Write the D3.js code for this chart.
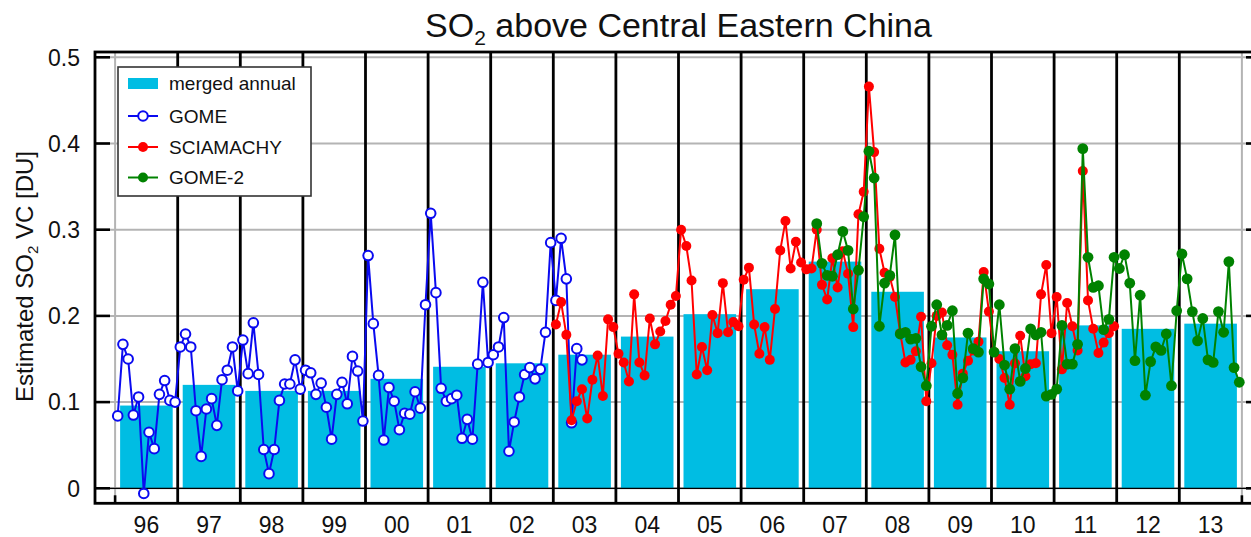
<!DOCTYPE html>
<html>
<head>
<meta charset="utf-8">
<script src="https://cdn.jsdelivr.net/npm/d3@7"></script>
<style>
  body { margin: 0; background: #fff; }
  svg { display: block; }
  text { font-family: "Liberation Sans", Arial, Helvetica, sans-serif; fill: #111; }
</style>
</head>
<body>
<svg id="chart" width="1251" height="537"></svg>
<script>
// Years and their short tick labels
const years = d3.range(1996, 2014);
const yearLabels = ["96","97","98","99","00","01","02","03","04","05","06","07","08","09","10","11","12","13"];

// Merged annual mean SO2 vertical column [DU]
const mergedAnnual = [0.096, 0.120, 0.113, 0.113, 0.127, 0.141, 0.145, 0.155, 0.176, 0.202,
                      0.231, 0.263, 0.228, 0.175, 0.159, 0.189, 0.185, 0.191];

// Monthly means, GOME, from January 1996
const gomeStart = 1996;
const gome = [
  0.084, 0.167, 0.150, 0.085, 0.106, -0.006, 0.065, 0.046, 0.109, 0.125, 0.102, 0.100,
  0.164, 0.179, 0.164, 0.090, 0.037, 0.092, 0.104, 0.073, 0.126, 0.137, 0.164, 0.113,
  0.172, 0.133, 0.192, 0.132, 0.045, 0.017, 0.045, 0.102, 0.121, 0.121, 0.149, 0.115,
  0.137, 0.134, 0.109, 0.122, 0.094, 0.057, 0.109, 0.123, 0.098, 0.153, 0.136, 0.078,
  0.270, 0.191, 0.131, 0.056, 0.117, 0.101, 0.068, 0.087, 0.086, 0.112, 0.093, 0.213,
  0.319, 0.227, 0.116, 0.101, 0.104, 0.108, 0.058, 0.080, 0.057, 0.144, 0.239, 0.146,
  0.155, 0.164, 0.198, 0.043, 0.077, 0.106, 0.132, 0.140, 0.127, 0.138, 0.181, 0.285,
  0.218, 0.290, 0.243, 0.076, 0.162, 0.149
];

// Monthly means, SCIAMACHY, from January 2003
const sciaStart = 2003;
const sciamachy = [
  0.190, 0.216, 0.178, 0.079, 0.101, 0.115, 0.081, 0.126, 0.154, 0.107, 0.196, 0.187,
  0.156, 0.146, 0.124, 0.225, 0.146, 0.131, 0.197, 0.167, 0.182, 0.194, 0.213, 0.223,
  0.300, 0.281, 0.241, 0.132, 0.164, 0.137, 0.201, 0.180, 0.238, 0.181, 0.193, 0.188,
  0.242, 0.256, 0.190, 0.156, 0.187, 0.149, 0.208, 0.276, 0.310, 0.255, 0.286, 0.262,
  0.254, 0.255, 0.300, 0.236, 0.219, 0.267, 0.233, 0.275, 0.249, 0.187, 0.318, 0.344,
  0.466, 0.390, 0.278, 0.250, 0.245, 0.222, 0.180, 0.146, 0.149, 0.159, 0.199, 0.101,
  0.145, 0.200, 0.204, 0.166, 0.155, 0.097, 0.133, 0.148, 0.160, 0.170, 0.251, 0.205,
  0.158, 0.150, 0.128, 0.097, 0.145, 0.177, 0.130, 0.144, 0.145, 0.225, 0.259, 0.180,
  0.222, 0.138, 0.215, 0.188, 0.160, 0.368, 0.218, 0.185, 0.157, 0.169, 0.180, 0.188
];

// Monthly means, GOME-2, from March 2007
const gome2Start = 2007 + 2 / 12;
const gome2 = [
  0.307, 0.261, 0.247, 0.246, 0.271, 0.298, 0.276, 0.208, 0.253, 0.315,
  0.391, 0.360, 0.188, 0.238, 0.247, 0.294, 0.179, 0.181, 0.173, 0.174, 0.141, 0.119,
  0.188, 0.213, 0.178, 0.189, 0.206, 0.110, 0.128, 0.180, 0.162, 0.158, 0.243, 0.237,
  0.158, 0.213, 0.143, 0.115, 0.162, 0.124, 0.139, 0.185, 0.178, 0.181, 0.107, 0.109,
  0.115, 0.189, 0.144, 0.144, 0.167, 0.394, 0.268, 0.233, 0.235, 0.184, 0.196, 0.268,
  0.255, 0.271, 0.238, 0.148, 0.224, 0.108, 0.147, 0.164, 0.160, 0.179, 0.119, 0.206,
  0.272, 0.243, 0.205, 0.171, 0.197, 0.149, 0.146, 0.205, 0.181, 0.263, 0.140, 0.123
];

// Value axis ticks
const yTicks = [0, 0.1, 0.2, 0.3, 0.4, 0.5];
const yTickLabels = ["0", "0.1", "0.2", "0.3", "0.4", "0.5"];

const colors = { bar: "#00bde3", gome: "#0a0af0", scia: "#ff0000", gome2: "#008200", grid: "#b4b4b4" };
const markerR = { gome: 4.8, scia: 5.0, gome2: 5.4 };

const svg = d3.select("#chart");
const frame = { left: 95, top: 52, right: 1258, bottom: 503.3 };

const x = d3.scaleLinear().domain([1996, 2014]).range([115.1, 1241.9]);
const y = d3.scaleLinear().domain([0, 0.5]).range([488.3, 57.3]);

// horizontal grid
svg.append("g").selectAll("line").data(yTicks).join("line")
  .attr("x1", frame.left).attr("x2", frame.right)
  .attr("y1", d => y(d)).attr("y2", d => y(d))
  .attr("stroke", colors.grid).attr("stroke-width", 2);

// vertical grid at the ends of the time range
svg.append("g").selectAll("line").data([1996, 2014]).join("line")
  .attr("x1", d => x(d)).attr("x2", d => x(d))
  .attr("y1", frame.top).attr("y2", frame.bottom)
  .attr("stroke", colors.grid).attr("stroke-width", 2);

// annual bars
svg.append("g").selectAll("rect").data(years).join("rect")
  .attr("x", d => x(d + 0.08))
  .attr("width", d => x(d + 0.92) - x(d + 0.08))
  .attr("y", (d, i) => y(mergedAnnual[i]))
  .attr("height", (d, i) => y(0) - y(mergedAnnual[i]))
  .attr("fill", colors.bar);

// zero baseline
svg.append("line")
  .attr("x1", frame.left).attr("x2", frame.right)
  .attr("y1", y(0)).attr("y2", y(0))
  .attr("stroke", "#000").attr("stroke-width", 1.3);

// year separators
svg.append("g").selectAll("line").data(years.slice(1)).join("line")
  .attr("x1", d => x(d)).attr("x2", d => x(d))
  .attr("y1", frame.top).attr("y2", frame.bottom)
  .attr("stroke", "#000").attr("stroke-width", 2.8);

// monthly series
function monthly(start, values) {
  return values.map((v, i) => ({ t: start + (i + 0.5) / 12, v }));
}
const line = d3.line().x(d => x(d.t)).y(d => y(d.v));

function drawSeries(data, color, r, hollow) {
  const g = svg.append("g");
  g.append("path").datum(data)
    .attr("d", line).attr("fill", "none")
    .attr("stroke", color).attr("stroke-width", 2).attr("stroke-linejoin", "round");
  g.selectAll("circle").data(data).join("circle")
    .attr("cx", d => x(d.t)).attr("cy", d => y(d.v)).attr("r", r)
    .attr("fill", hollow ? "#fff" : color)
    .attr("stroke", color).attr("stroke-width", hollow ? 2 : 0);
}
drawSeries(monthly(gomeStart, gome), colors.gome, markerR.gome, true);
drawSeries(monthly(sciaStart, sciamachy), colors.scia, markerR.scia, false);
drawSeries(monthly(gome2Start, gome2), colors.gome2, markerR.gome2, false);

// frame
svg.append("rect")
  .attr("x", frame.left).attr("y", frame.top)
  .attr("width", frame.right - frame.left).attr("height", frame.bottom - frame.top)
  .attr("fill", "none").attr("stroke", "#000").attr("stroke-width", 2.8);

// y ticks (inside, both sides)
const yt = svg.append("g");
yt.selectAll("line.l").data(yTicks).join("line").attr("class", "l")
  .attr("x1", frame.left).attr("x2", frame.left + 15)
  .attr("y1", d => y(d)).attr("y2", d => y(d))
  .attr("stroke", "#000").attr("stroke-width", 2.6);
yt.selectAll("line.r").data(yTicks).join("line").attr("class", "r")
  .attr("x1", frame.right - 12).attr("x2", frame.right)
  .attr("y1", d => y(d)).attr("y2", d => y(d))
  .attr("stroke", "#000").attr("stroke-width", 2.6);
yt.selectAll("text").data(yTicks).join("text")
  .attr("x", 80).attr("y", d => y(d)).attr("dy", "0.36em")
  .attr("text-anchor", "end").attr("font-size", 23)
  .text((d, i) => yTickLabels[i]);

// x ticks at range ends
svg.append("g").selectAll("line").data([1996, 2014]).join("line")
  .attr("x1", d => x(d)).attr("x2", d => x(d))
  .attr("y1", frame.bottom).attr("y2", frame.bottom - 8)
  .attr("stroke", "#000").attr("stroke-width", 2.6);

// year labels centred in each year
svg.append("g").selectAll("text").data(years).join("text")
  .attr("x", d => x(d + 0.5)).attr("y", 532.5)
  .attr("text-anchor", "middle").attr("font-size", 23)
  .text((d, i) => yearLabels[i]);

// title
const title = svg.append("text")
  .attr("x", 678.5).attr("y", 37).attr("text-anchor", "middle").attr("font-size", 34);
title.append("tspan").text("SO");
title.append("tspan").attr("font-size", 21).attr("dy", 8).text("2");
title.append("tspan").attr("dy", -8).text(" above Central Eastern China");

// y axis label
const yl = svg.append("text")
  .attr("transform", "translate(33,276.5) rotate(-90)")
  .attr("text-anchor", "middle").attr("font-size", 24);
yl.append("tspan").text("Estimated SO");
yl.append("tspan").attr("font-size", 15).attr("dy", 5).text("2");
yl.append("tspan").attr("dy", -5).text(" VC [DU]");

// legend
const lg = svg.append("g");
lg.append("rect").attr("x", 118).attr("y", 67).attr("width", 193).attr("height", 129)
  .attr("fill", "#fff").attr("stroke", "#333").attr("stroke-width", 1.6);
const entries = [
  { label: "merged annual", type: "bar", yc: 83.5 },
  { label: "GOME", type: "gome", yc: 116 },
  { label: "SCIAMACHY", type: "scia", yc: 147 },
  { label: "GOME-2", type: "gome2", yc: 177.5 }
];
entries.forEach(e => {
  if (e.type === "bar") {
    lg.append("rect").attr("x", 128).attr("y", e.yc - 5.5).attr("width", 30).attr("height", 11)
      .attr("fill", colors.bar);
  } else {
    const c = colors[e.type];
    lg.append("line").attr("x1", 128).attr("x2", 158).attr("y1", e.yc).attr("y2", e.yc)
      .attr("stroke", c).attr("stroke-width", 2);
    lg.append("circle").attr("cx", 143).attr("cy", e.yc)
      .attr("r", e.type === "gome" ? 4.8 : 5)
      .attr("fill", e.type === "gome" ? "#fff" : c)
      .attr("stroke", c).attr("stroke-width", e.type === "gome" ? 2 : 0);
  }
  lg.append("text").attr("x", 169).attr("y", e.yc).attr("dy", "0.36em")
    .attr("font-size", 19).text(e.label);
});
</script>
</body>
</html>
